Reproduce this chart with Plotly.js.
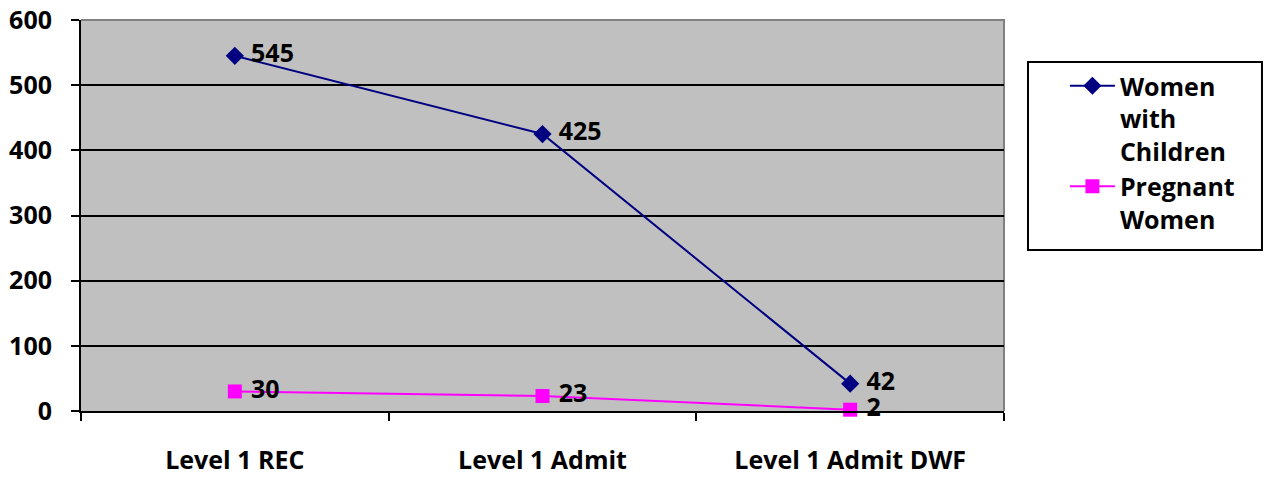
<!DOCTYPE html>
<html><head><meta charset="utf-8">
<script src="https://cdn.plot.ly/plotly-3.0.1.min.js"></script>
<style>html,body{margin:0;padding:0;background:#fff}#c{width:1264px;height:477px}</style>
</head><body><div id="c"></div>
<script>
const categories = ["Level 1 REC", "Level 1 Admit", "Level 1 Admit DWF"];
const womenWithChildren = [545, 425, 42];
const pregnantWomen = [30, 23, 2];
const seriesNames = ["Women<br>with<br>Children", "Pregnant<br>Women"];
const yTicks = [0, 100, 200, 300, 400, 500, 600];

const font = {family: "'Open Sans', sans-serif", size: 25, color: "#000", weight: "bold"};

const traces = [
  {x: categories, y: womenWithChildren, name: seriesNames[0], type: "scatter", mode: "lines+markers+text",
   line: {color: "#000080", width: 2}, marker: {symbol: "diamond", size: 14, color: "#000080"},
   texttemplate: " %{y}", textposition: "middle right", textfont: font, cliponaxis: false},
  {x: categories, y: pregnantWomen, name: seriesNames[1], type: "scatter", mode: "lines+markers+text",
   line: {color: "#FF00FF", width: 2}, marker: {symbol: "square", size: 14, color: "#FF00FF"},
   texttemplate: " %{y}", textposition: "middle right", textfont: font, cliponaxis: false}
];

const layout = {
  width: 1264, height: 477,
  margin: {l: 81, r: 260, t: 20, b: 66},
  paper_bgcolor: "#fff", plot_bgcolor: "#C0C0C0",
  font: font,
  showlegend: true,
  legend: {x: 1.066, xanchor: "left", y: 0.89, yanchor: "top", bgcolor: "rgba(0,0,0,0)",
           borderwidth: 0, font: font, tracegroupgap: 0, itemwidth: 45, valign: "top"},
  xaxis: {type: "category", range: [-0.5, 2.5], tickson: "boundaries", ticks: "outside", ticklen: 8,
          tickcolor: "#000", tickwidth: 2, showline: true, linecolor: "#000", linewidth: 2, showgrid: false,
          tickfont: font, ticklabelstandoff: 26},
  yaxis: {range: [0, 600], tickvals: yTicks, ticks: "outside", ticklen: 8, tickcolor: "#000", tickwidth: 2,
          showline: true, linecolor: "#000", linewidth: 2, showgrid: true, gridcolor: "#000", gridwidth: 2,
          zeroline: false, tickfont: font, ticklabelstandoff: 14},
  shapes: [
    {type: "path", xref: "paper", yref: "paper", path: "M 0 1 L 1 1 L 1 0", line: {color: "#808080", width: 2}, layer: "below"},
    {type: "rect", xref: "paper", yref: "paper", x0: 1.026, x1: 1.2795, y0: 0.4118, y1: 0.8926,
     fillcolor: "#fff", line: {color: "#000", width: 2}, layer: "below"}
  ]
};
Plotly.newPlot("c", traces, layout, {displayModeBar: false, staticPlot: true});
</script></body></html>
